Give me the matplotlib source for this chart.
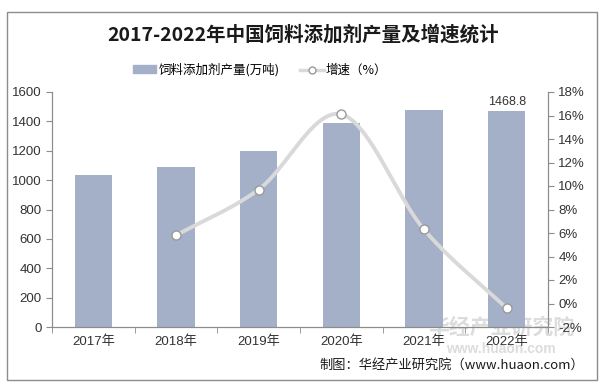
import numpy as np
import matplotlib
matplotlib.use("Agg")
from matplotlib import pyplot as plt
from matplotlib.patches import Rectangle
from matplotlib.lines import Line2D

plt.rcParams['font.family'] = ['Liberation Sans', 'Noto Sans CJK SC', 'DejaVu Sans']

# DATA
years = ["2017年", "2018年", "2019年", "2020年", "2021年", "2022年"]
output = [1034, 1088, 1197, 1388, 1476, 1468.8]       # 饲料添加剂产量(万吨)
growth_years = [1, 2, 3, 4, 5]                          # index into years
growth = [5.8, 9.7, 16.1, 6.3, -0.4]                    # 增速(%)

bar_color = "#a4afc8"
line_color = "#d9d9d9"
axis_color = "#8c8c8c"
cjk = ['Noto Sans CJK SC', 'DejaVu Sans']

fig = plt.figure(figsize=(6.06, 3.91), dpi=100)
fig.patches.append(Rectangle((7/606, 1 - 380/391), 590/606, 368/391, transform=fig.transFigure,
                             fill=False, edgecolor="#8c8c8c", linewidth=1))

# watermark (faint, behind the axes)
fig.text(501/606, 1 - 327/391, "华经产业研究院", ha="center", va="center", fontsize=15,
         fontweight="bold", color="#dcdcdc", family=cjk, zorder=-1)
fig.text(501/606, 1 - 349/391, "www.huaon.com", ha="center", va="center", fontsize=10,
         fontweight="bold", color="#dcdcdc", zorder=-1)

ax = fig.add_axes([52/606, 64/391, 496/606, 235/391])
ax.patch.set_alpha(0)
x = np.arange(len(years))
ax.bar(x, output, width=0.45, color=bar_color, zorder=1)
ax.set_xlim(-0.5, len(years) - 0.5)
ax.set_ylim(0, 1600)
ax.set_yticks(range(0, 1601, 200))
ax.set_xticks(x)
ax.set_xticklabels(years)
ax.set_xticks(np.arange(-0.5, len(years), 1), minor=True)
ax.tick_params(axis="x", which="major", length=0, pad=6, labelsize=9.5, colors="#333333")
ax.tick_params(axis="x", which="minor", length=4, color=axis_color)
ax.tick_params(axis="y", length=4, color=axis_color, labelsize=9.5, labelcolor="#333333")
ax.text(x[-1], output[-1] + 25, str(output[-1]), ha="center", va="bottom", fontsize=9, color="#333333")

ax2 = ax.twinx()
ax2.set_ylim(-2, 18)
ax2.set_yticks(range(-2, 19, 2))
ax2.set_yticklabels([f"{v}%" for v in range(-2, 19, 2)])
ax2.tick_params(axis="y", length=4, color=axis_color, labelsize=9.5, labelcolor="#333333")

# smooth curve through the points (Catmull-Rom style)
px = np.array(growth_years, dtype=float)
py = np.array(growth, dtype=float)
xs, ys = [], []
pts_x = np.concatenate([[2*px[0]-px[1]], px, [2*px[-1]-px[-2]]])
pts_y = np.concatenate([[2*py[0]-py[1]], py, [2*py[-1]-py[-2]]])
for i in range(1, len(pts_x) - 2):
    t = np.linspace(0, 1, 40)
    for arr, out in ((pts_x, xs), (pts_y, ys)):
        p0, p1, p2, p3 = arr[i-1], arr[i], arr[i+1], arr[i+2]
        out.extend(0.5*((2*p1) + (-p0+p2)*t + (2*p0-5*p1+4*p2-p3)*t**2 + (-p0+3*p1-3*p2+p3)*t**3))
ax2.plot(xs, ys, color=line_color, linewidth=2.8, zorder=2, solid_capstyle="round")
ax2.plot(px, py, linestyle="none", marker="o", markersize=6.5, markerfacecolor="white",
         markeredgecolor="#9a9a9a", markeredgewidth=1, zorder=3)

for a in (ax, ax2):
    a.spines["top"].set_visible(False)
    for s in ("left", "right", "bottom"):
        a.spines[s].set_color(axis_color)

# legend
handles = [Rectangle((0, 0), 1, 1, color=bar_color),
           Line2D([0], [0], color=line_color, linewidth=2.5, marker="o", markersize=5,
                  markerfacecolor="white", markeredgecolor="#9a9a9a")]
fig.legend(handles, ["饲料添加剂产量(万吨)", "增速（%）"], loc="center", bbox_to_anchor=(260/606, 1 - 70/391),
           ncol=2, frameon=False, prop={'family': cjk, 'size': 9}, handlelength=1.9, handleheight=0.6,
           columnspacing=1.6, handletextpad=0.2)

fig.text(0.5, 1 - 35/391, "2017-2022年中国饲料添加剂产量及增速统计", ha="center", va="center",
         fontsize=14, fontweight="bold", color="#1a1a1a", family=cjk)

fig.text(584/606, 1 - 365/391, "制图：华经产业研究院（www.huaon.com）", ha="right", va="center",
         fontsize=9.5, color="#1a1a1a", family=cjk)

fig.savefig("out.png", dpi=100)
